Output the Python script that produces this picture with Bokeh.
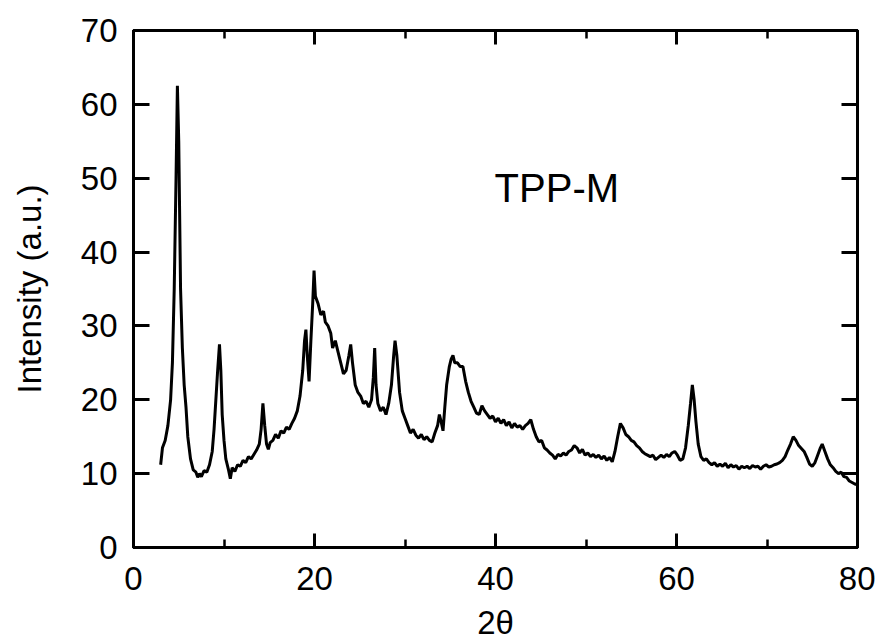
from bokeh.plotting import figure
from bokeh.models import LinearAxis, Range1d, SingleIntervalTicker, Label, CustomLabelingPolicy
from bokeh.embed import file_html
from bokeh.resources import INLINE

# ---- data ----
two_theta = [
    3.0, 3.2, 3.5, 3.8, 4.1, 4.3, 4.5, 4.7, 4.85, 5.0, 5.2, 5.4, 5.6, 5.8, 6.0, 6.3, 6.6, 6.9, 7.1, 7.3,
    7.5, 7.8, 8.1, 8.4, 8.7, 8.9, 9.1, 9.3, 9.5, 9.65, 9.8, 10.0, 10.2, 10.5, 10.7, 10.9, 11.2, 11.5, 11.8, 12.1,
    12.4, 12.7, 13.0, 13.3, 13.6, 13.9, 14.1, 14.3, 14.5, 14.7, 14.9, 15.1, 15.4, 15.7, 16.0, 16.3, 16.6, 16.9, 17.2, 17.5,
    17.8, 18.1, 18.4, 18.7, 18.9, 19.05, 19.2, 19.4, 19.6, 19.8, 19.95, 20.1, 20.4, 20.7, 21.0, 21.2, 21.5, 21.8, 22.0, 22.3,
    22.6, 22.9, 23.2, 23.5, 23.8, 24.0, 24.2, 24.5, 24.8, 25.1, 25.4, 25.7, 26.0, 26.3, 26.5, 26.65, 26.8, 27.0, 27.3, 27.6,
    27.9, 28.2, 28.5, 28.75, 28.9, 29.1, 29.4, 29.7, 30.0, 30.3, 30.6, 30.9, 31.2, 31.5, 31.8, 32.1, 32.4, 32.7, 33.0, 33.3,
    33.6, 33.8, 34.0, 34.2, 34.4, 34.6, 34.9, 35.1, 35.3, 35.5, 35.8, 36.1, 36.4, 36.7, 37.0, 37.3, 37.6, 37.9, 38.2, 38.5,
    38.8, 39.1, 39.4, 39.7, 40.0, 40.3, 40.6, 40.9, 41.2, 41.5, 41.8, 42.1, 42.4, 42.7, 43.0, 43.3, 43.6, 43.9, 44.2, 44.5,
    44.8, 45.1, 45.4, 45.7, 46.0, 46.3, 46.6, 46.9, 47.2, 47.5, 47.8, 48.1, 48.4, 48.7, 49.0, 49.3, 49.6, 49.9, 50.2, 50.5,
    50.8, 51.1, 51.4, 51.7, 52.0, 52.3, 52.6, 52.9, 53.2, 53.5, 53.8, 54.1, 54.4, 54.7, 55.0, 55.3, 55.6, 55.9, 56.2, 56.5,
    56.8, 57.1, 57.4, 57.7, 58.0, 58.3, 58.6, 58.9, 59.2, 59.5, 59.8, 60.1, 60.4, 60.7, 61.0, 61.3, 61.55, 61.75, 61.95, 62.15,
    62.4, 62.7, 63.0, 63.3, 63.6, 63.9, 64.2, 64.5, 64.8, 65.1, 65.4, 65.7, 66.0, 66.3, 66.6, 66.9, 67.2, 67.5, 67.8, 68.1,
    68.4, 68.7, 69.0, 69.3, 69.6, 69.9, 70.2, 70.5, 70.8, 71.1, 71.4, 71.7, 72.0, 72.3, 72.6, 72.9, 73.2, 73.5, 73.8, 74.1,
    74.4, 74.7, 75.0, 75.3, 75.6, 75.9, 76.1, 76.4, 76.7, 77.0, 77.3, 77.6, 77.9, 78.2, 78.5, 78.8, 79.1, 79.4, 79.7, 80.0,
]
intensity = [
    11.2, 13.5, 14.5, 16.5, 20.0, 25.0, 35.0, 50.0, 62.5, 55.0, 35.0, 27.0, 22.0, 19.0, 15.0, 12.0, 10.5, 10.2, 9.5, 10.0,
    9.6, 10.4, 10.2, 11.2, 13.0, 16.0, 20.0, 24.0, 27.5, 24.0, 18.0, 14.5, 12.0, 10.5, 9.3, 10.8, 10.3, 11.2, 11.0, 11.8,
    11.5, 12.3, 12.0, 12.6, 13.2, 14.0, 16.0, 19.5, 16.5, 14.0, 13.3, 14.2, 14.5, 15.3, 14.8, 15.8, 15.5, 16.3, 16.0, 16.8,
    17.5, 18.5, 20.5, 24.0, 28.0, 29.5, 26.0, 22.5, 28.0, 33.0, 37.5, 34.0, 33.0, 31.5, 32.0, 30.5, 30.0, 29.0, 27.0, 28.0,
    26.5, 25.0, 23.5, 24.0, 26.0, 27.5, 25.0, 22.0, 21.0, 20.5, 19.5, 19.8, 19.0, 20.0, 23.0, 27.0, 22.0, 19.5, 18.5, 19.0,
    18.0, 19.5, 22.0, 26.0, 28.0, 26.0, 21.0, 18.5, 17.5, 16.5, 15.5, 16.0, 15.2, 14.8, 15.3, 14.6, 15.0, 14.5, 14.3, 15.5,
    16.5, 18.0, 17.0, 15.8, 19.0, 22.0, 24.5, 25.5, 26.0, 25.0, 25.0, 24.5, 24.5, 22.5, 21.0, 19.8, 19.0, 18.2, 18.0, 19.2,
    18.5, 18.0, 17.5, 17.8, 17.0, 17.5, 16.8, 17.3, 16.5, 17.0, 16.2, 16.8, 16.3, 16.5, 16.0, 16.5, 16.8, 17.3, 16.0, 15.0,
    14.3, 14.5, 13.5, 13.2, 12.8, 12.5, 12.0, 12.6, 12.4, 12.8, 12.5, 13.0, 13.2, 13.8, 13.5, 12.8, 13.3, 12.5, 12.8, 12.3,
    12.6, 12.2, 12.5, 12.0, 12.4, 11.8, 12.2, 11.6, 13.0, 15.0, 16.8, 16.2, 15.3, 15.0, 14.5, 14.3, 13.8, 13.5, 13.0, 12.7,
    12.5, 12.3, 12.5, 11.9, 12.2, 12.5, 12.2, 12.6, 12.3, 12.8, 13.0, 12.5, 11.8, 12.0, 13.5, 16.5, 19.5, 22.0, 20.0, 17.0,
    14.0, 12.3, 11.8, 12.0, 11.5, 11.2, 11.5, 11.0, 11.3, 11.0, 11.4, 10.8, 11.2, 10.9, 11.1, 10.6, 11.0, 10.8, 11.0, 10.7,
    11.1, 10.9, 11.0, 10.6, 11.0, 11.2, 10.9, 11.0, 11.2, 11.3, 11.5, 11.8, 12.3, 13.2, 14.0, 15.0, 14.5, 13.8, 13.4, 13.0,
    12.2, 11.3, 11.0, 11.5, 12.5, 13.5, 14.0, 13.0, 12.0, 11.2, 10.8, 10.3, 10.0, 10.2, 9.6, 9.5, 9.0, 8.8, 8.6, 8.5,
]
sample_label = "TPP-M"
x_title = "2θ"
y_title = "Intensity (a.u.)"

FONT = "Liberation Sans"

p = figure(width=875, height=643, output_backend="svg", toolbar_location=None,
           x_range=Range1d(0, 80), y_range=Range1d(0, 70),
           min_border_left=133, min_border_right=18, min_border_top=30, min_border_bottom=96,
           x_axis_location=None, y_axis_location=None)
p.xgrid.visible = False
p.ygrid.visible = False
p.outline_line_color = "black"
p.outline_line_width = 3
p.background_fill_color = "white"
p.border_fill_color = "white"

no_labels = CustomLabelingPolicy(code="""
    const all = [...indices]
    for (const i of all) indices.unset(i)
    return indices
""")

def style(ax, labels=True):
    ax.axis_line_color = "black"
    ax.axis_line_width = 3
    ax.major_tick_line_color = "black"
    ax.major_tick_line_width = 3
    ax.minor_tick_line_color = "black"
    ax.minor_tick_line_width = 2.5
    ax.major_tick_out = 0
    ax.minor_tick_out = 0
    ax.major_label_text_font = FONT
    ax.major_label_text_color = "black"
    ax.axis_label_text_font = FONT
    ax.axis_label_text_font_size = "33px"
    ax.axis_label_text_font_style = "normal"
    ax.axis_label_text_color = "black"
    if labels:
        ax.major_label_text_font_size = "33px"
    else:
        ax.major_label_text_font_size = "1px"
        ax.major_label_standoff = 0
        ax.major_label_policy = no_labels

bottom = LinearAxis(ticker=SingleIntervalTicker(interval=20, num_minor_ticks=2), axis_label=x_title)
style(bottom)
bottom.major_tick_in = 14
bottom.minor_tick_in = 8
bottom.major_label_standoff = 19
bottom.axis_label_standoff = 11
p.add_layout(bottom, "below")

top = LinearAxis(ticker=SingleIntervalTicker(interval=20, num_minor_ticks=2))
style(top, labels=False)
top.major_tick_in = 14
top.minor_tick_in = 8
p.add_layout(top, "above")

left = LinearAxis(ticker=SingleIntervalTicker(interval=10, num_minor_ticks=0), axis_label=y_title)
style(left)
left.major_tick_in = 16
left.major_label_standoff = 16
left.axis_label_standoff = 30
p.add_layout(left, "left")

right = LinearAxis(ticker=SingleIntervalTicker(interval=10, num_minor_ticks=0))
style(right, labels=False)
right.major_tick_in = 16
p.add_layout(right, "right")

p.line(two_theta, intensity, line_color="black", line_width=3)

p.add_layout(Label(x=39.9, y=48.7, text=sample_label, text_font=FONT, text_font_size="40px",
                   text_color="black", text_baseline="middle", text_align="left"))

open("out.html", "w").write(file_html(p, INLINE))
